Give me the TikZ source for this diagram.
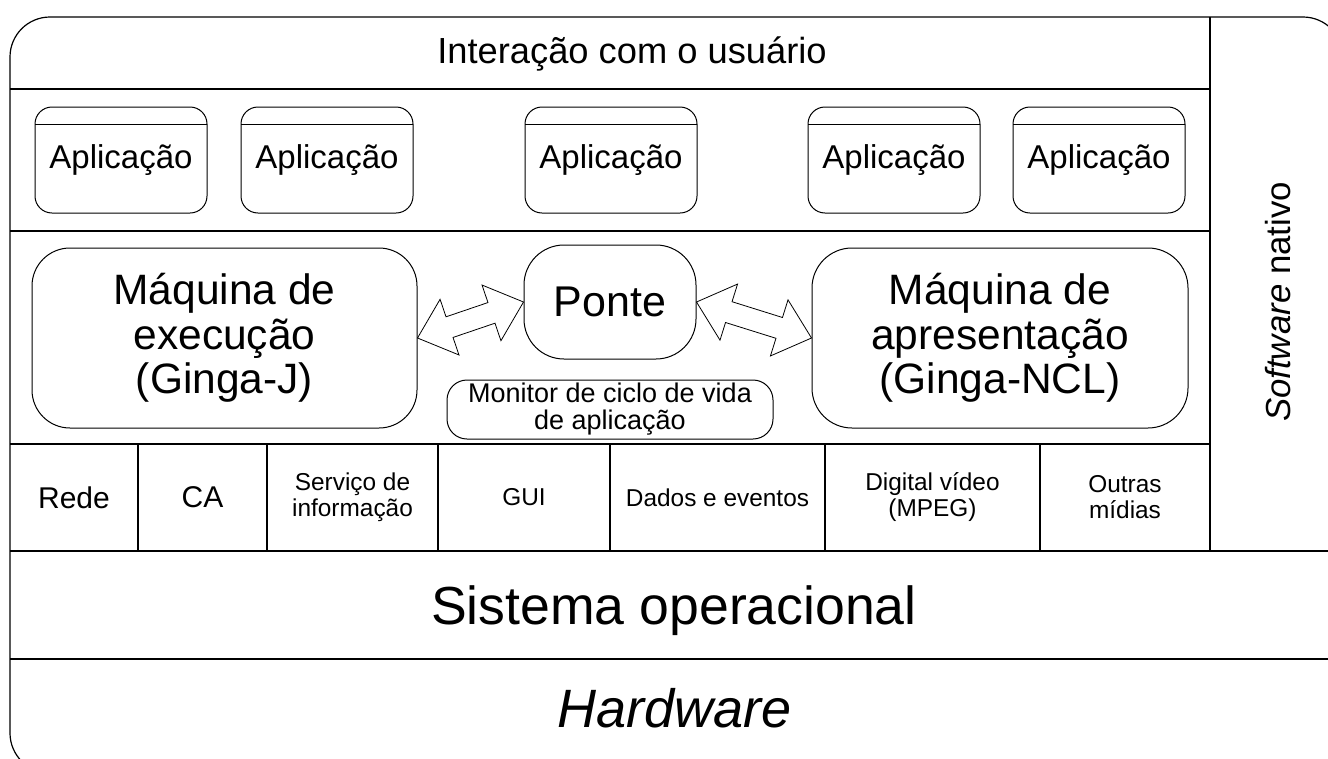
\documentclass[tikz,border=0pt]{standalone}
\usepackage{fontspec}
\setmainfont{Liberation Sans}
\usetikzlibrary{shapes.arrows,calc}
\tikzset{
  caixa/.style={draw, rounded corners=#1, line width=1pt, align=center, inner sep=0pt},
  caixa/.default=38pt,
  aplic/.style={caixa=17pt, minimum width=172pt, minimum height=106pt,
    font=\fontsize{33}{38}\selectfont,
    path picture={\draw[line width=1pt] ([yshift=-17pt]path picture bounding box.north west)
      -- ([yshift=-17pt]path picture bounding box.north east);}},
  maq/.style={caixa=38pt, minimum width=380pt, minimum height=180pt, font=\fontsize{42.5}{44.5}\selectfont},
  servico/.style={align=center, font=\fontsize{24.4}{26}\selectfont},
  seta/.style={draw, double arrow, line width=0.8pt, inner xsep=0pt, inner ysep=10.5pt, minimum width=58pt,
    double arrow head extend=18.5pt, double arrow tip angle=82},
}
\begin{document}
\begin{tikzpicture}[x=1pt,y=-1pt,line width=1.2pt]
  % Recorte
  \useasboundingbox (0,0) rectangle (1328,758);
  \clip (0,0) rectangle (1328,758);
  % Moldura e camadas
  \draw[rounded corners=40pt] (10,17) rectangle (1343,773);
  \draw (10,89) -- (1210,89);
  \draw (10,231) -- (1210,231);
  \draw (10,444) -- (1210,444);
  \draw (10,551) -- (1343,551);
  \draw (10,659) -- (1343,659);
  \draw (1210,17) -- (1210,551);
  \node[anchor=base, font=\fontsize{36.3}{40}\selectfont] (usuario) at (632,63) {Interação com o usuário};
  % Aplicacoes
  \foreach \x [count=\i] in {121,327,611,894,1099}
    \node[aplic] (app\i) at (\x,160) {Aplicação};
  % Maquinas e ponte
  \node[maq, minimum width=385pt] (exec) at (224.5,338) {Máquina de\\execução\\(Ginga-J)};
  \node[maq, caixa=40pt, minimum width=376pt] (apres) at (1000,338) {Máquina de\\apresentação\\(Ginga-NCL)};
  \node[caixa=40pt, minimum width=172pt, minimum height=114pt, font=\fontsize{43}{48}\selectfont] (ponte) at (610,302) {Ponte};
  \node[caixa=20pt, minimum width=326pt, minimum height=59pt, font=\fontsize{27}{27}\selectfont] (monitor) at (610,409.5) {Monitor de ciclo de vida\\de aplicação};
  % Setas
  \path let \p1=(exec.east), \p2=(ponte.west), \n1={atan2(\y2-\y1,\x2-\x1)}, \n2={veclen(\x2-\x1,\y2-\y1)} in
    node[seta, rotate=\n1, minimum height=\n2] (setaE) at ($(\p1)!0.5!(\p2)$) {};
  \path let \p1=(ponte.east), \p2=(apres.west), \n1={atan2(\y2-\y1,\x2-\x1)}, \n2={veclen(\x2-\x1,\y2-\y1)} in
    node[seta, rotate=\n1, minimum height=\n2] (setaA) at ($(\p1)!0.5!(\p2)$) {};
  % Servicos
  \foreach \x in {138,267,438,610,825,1040}
    \draw (\x,444) -- (\x,551);
  \node[servico, font=\fontsize{30}{32}\selectfont] (rede) at (74,497.5) {Rede};
  \node[servico, font=\fontsize{30}{32}\selectfont] (ca) at (202.5,497.5) {CA};
  \node[servico] (info) at (352.5,497.5) {Serviço de\\informação};
  \node[servico] (gui) at (524,497.5) {GUI};
  \node[servico] (dados) at (717.5,497.5) {Dados e eventos};
  \node[servico] (video) at (932.5,497.5) {Digital vídeo\\(MPEG)};
  \node[servico] (midias) at (1125,497.5) {Outras\\mídias};
  % Software nativo, SO, hardware
  \node[anchor=base, rotate=90, font=\fontsize{34.8}{40}\selectfont] (nativo) at (1290,302) {\textit{Software} nativo};
  \node[anchor=base, font=\fontsize{53.6}{60}\selectfont] (so) at (674,624) {Sistema operacional};
  \node[anchor=base, font=\fontsize{54}{60}\selectfont\itshape] (hw) at (675,727) {Hardware};
\end{tikzpicture}
\end{document}
